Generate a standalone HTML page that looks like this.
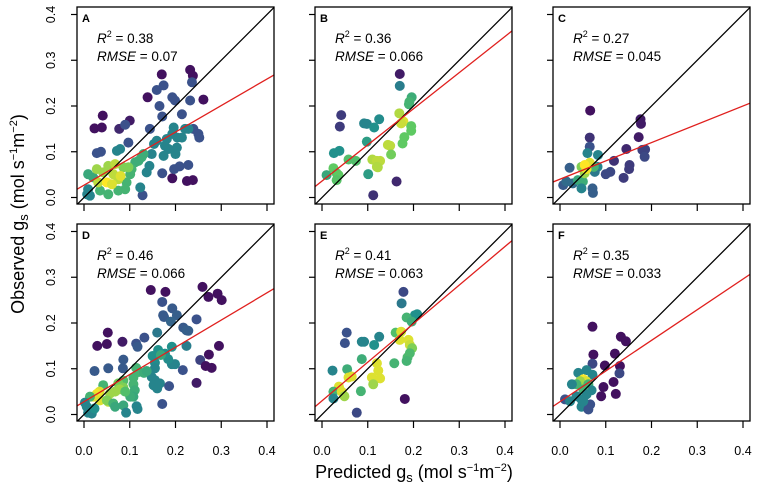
<!DOCTYPE html>
<html><head><meta charset="utf-8"><style>
body{margin:0;background:#fff}
svg{display:block;font-family:"Liberation Sans",sans-serif}
</style></head><body>
<svg id="chart" width="758" height="492" viewBox="0 0 758 492" xmlns="http://www.w3.org/2000/svg">
<text transform="translate(24,214) rotate(-90)" text-anchor="middle" font-size="18">Observed g<tspan font-size="13" dy="4">s</tspan><tspan dy="-4"> (mol s</tspan><tspan font-size="11" dy="-7">−1</tspan><tspan dy="7">m</tspan><tspan font-size="11" dy="-7">−2</tspan><tspan dy="7">)</tspan></text>
<text x="414" y="478" text-anchor="middle" font-size="18">Predicted g<tspan font-size="13" dy="4">s</tspan><tspan dy="-4"> (mol s</tspan><tspan font-size="11" dy="-7">−1</tspan><tspan dy="7">m</tspan><tspan font-size="11" dy="-7">−2</tspan><tspan dy="7">)</tspan></text>
</svg>
<script>
const ticks=[0,0.1,0.2,0.3,0.4];
const tickLabels=["0.0","0.1","0.2","0.3","0.4"];
const panelLetters=["A","B","C","D","E","F"];
const r2Values=["0.38","0.36","0.27","0.46","0.41","0.35"];
const rmseValues=["0.07","0.066","0.045","0.066","0.063","0.033"];
const fitSlopes=[0.58,0.79,0.40,0.595,0.843,0.67];
const fitIntercepts=[0.027,0.036,0.040,0.028,0.030,0.028];
const aX=[0.023,0.039,0.041,0.1,0.139,0.17,0.232,0.238,0.261,0.225,0.238,0.193,0.077,0.028,0.037,0.09,0.097,0.144,0.159,0.174,0.165,0.171,0.193,0.199,0.214,0.236,0.232,0.25,0.252,0.239,0.128,0.171,0.197,0.209,0.228,0.228,0.221,0.196,0.193,0.204,0.214,0.181,0.159,0.153,0.177,0.185,0.203,0.2,0.174,0.148,0.143,0.137,0.123,0.072,0.079,0.009,0.007,0.013,0.13,0.112,0.119,0.126,0.104,0.101,0.093,0.09,0.075,0.053,0.035,0.009,0.02,0.031,0.028,0.042,0.053,0.064,0.075,0.086,0.097,0.068,0.08,0.05,0.061];
const aY=[0.151,0.153,0.179,0.168,0.219,0.269,0.279,0.266,0.214,0.036,0.038,0.042,0.15,0.097,0.1,0.159,0.12,0.15,0.235,0.245,0.2,0.177,0.219,0.212,0.182,0.252,0.212,0.139,0.131,0.15,0.005,0.053,0.062,0.068,0.071,0.15,0.15,0.153,0.139,0.131,0.131,0.128,0.124,0.117,0.113,0.106,0.109,0.095,0.091,0.095,0.069,0.055,0.022,0.102,0.106,0.018,0.007,0.004,0.095,0.077,0.08,0.088,0.062,0.051,0.033,0.018,0.015,0.007,0.015,0.051,0.044,0.033,0.062,0.055,0.069,0.051,0.04,0.066,0.066,0.073,0.047,0.033,0.029];
const aC=[0.05,0.05,0.05,0.08,0.05,0.05,0.05,0.05,0.05,0.05,0.05,0.05,0.12,0.25,0.25,0.25,0.25,0.25,0.25,0.25,0.25,0.25,0.25,0.25,0.25,0.25,0.25,0.25,0.25,0.25,0.25,0.25,0.25,0.25,0.25,0.45,0.45,0.45,0.45,0.45,0.45,0.45,0.45,0.45,0.45,0.45,0.45,0.45,0.45,0.45,0.45,0.45,0.45,0.45,0.45,0.45,0.45,0.45,0.62,0.62,0.62,0.62,0.65,0.65,0.65,0.65,0.65,0.65,0.65,0.6,0.6,0.9,0.85,0.85,0.85,0.9,0.9,0.8,0.8,0.9,0.95,1,0.95];
const bX=[0.17,0.17,0.196,0.191,0.19,0.042,0.039,0.092,0.098,0.125,0.114,0.169,0.178,0.173,0.195,0.195,0.098,0.18,0.176,0.144,0.149,0.151,0.038,0.026,0.058,0.074,0.11,0.12,0.127,0.12,0.122,0.025,0.032,0.036,0.01,0.101,0.032,0.163,0.112];
const bY=[0.27,0.244,0.219,0.209,0.204,0.18,0.155,0.162,0.161,0.171,0.153,0.184,0.166,0.162,0.156,0.146,0.122,0.132,0.118,0.115,0.113,0.094,0.102,0.097,0.083,0.08,0.083,0.08,0.08,0.067,0.066,0.064,0.053,0.049,0.049,0.051,0.038,0.035,0.005];
const bC=[0.08,0.42,0.62,0.65,0.65,0.18,0.18,0.45,0.45,0.48,0.5,0.88,0.95,0.92,0.75,0.75,0.55,0.75,0.75,0.9,0.9,0.78,0.5,0.5,0.7,0.7,0.88,0.9,0.9,0.88,0.88,0.75,0.72,0.75,0.6,0.55,0.72,0.12,0.15];
const cX=[0.066,0.176,0.177,0.172,0.065,0.065,0.145,0.18,0.186,0.185,0.06,0.118,0.152,0.151,0.11,0.1,0.139,0.021,0.083,0.082,0.076,0.007,0.028,0.039,0.05,0.047,0.071,0.072,0.014,0.047,0.074,0.054,0.065,0.058,0.054];
const cY=[0.19,0.171,0.161,0.132,0.131,0.111,0.106,0.104,0.105,0.089,0.097,0.08,0.071,0.062,0.056,0.051,0.043,0.065,0.093,0.067,0.056,0.027,0.031,0.038,0.035,0.02,0.02,0.01,0.035,0.067,0.067,0.053,0.076,0.062,0.071];
const cC=[0.05,0.08,0.08,0.08,0.15,0.25,0.12,0.2,0.2,0.22,0.45,0.15,0.18,0.18,0.22,0.22,0.18,0.3,0.45,0.45,0.4,0.28,0.35,0.6,0.62,0.45,0.3,0.3,0.35,0.8,0.65,0.85,0.95,0.98,1];
const dX=[0.146,0.178,0.259,0.272,0.292,0.301,0.171,0.173,0.175,0.193,0.203,0.19,0.246,0.217,0.224,0.228,0.16,0.052,0.029,0.05,0.084,0.114,0.117,0.132,0.224,0.295,0.254,0.266,0.279,0.273,0.246,0.216,0.199,0.192,0.184,0.192,0.177,0.162,0.159,0.15,0.168,0.155,0.155,0.148,0.155,0.152,0.16,0.166,0.186,0.171,0.114,0.12,0.131,0.137,0.108,0.086,0.075,0.086,0.078,0.108,0.111,0.108,0.101,0.09,0.068,0.057,0.042,0.034,0.028,0.02,0.013,0.035,0.053,0.002,0.006,0.017,0.009,0.023,0.05,0.064,0.068,0.086,0.092,0.115,0.117,0.023,0.053,0.085,0.086];
const dY=[0.272,0.268,0.279,0.257,0.264,0.25,0.246,0.217,0.213,0.232,0.217,0.203,0.208,0.19,0.184,0.183,0.179,0.179,0.15,0.154,0.159,0.155,0.148,0.168,0.15,0.15,0.119,0.106,0.102,0.131,0.069,0.097,0.11,0.11,0.121,0.148,0.133,0.141,0.13,0.128,0.13,0.113,0.101,0.082,0.075,0.064,0.057,0.068,0.062,0.023,0.102,0.093,0.091,0.095,0.081,0.074,0.068,0.059,0.055,0.066,0.053,0.039,0.039,0.05,0.05,0.046,0.064,0.05,0.045,0.039,0.039,0.031,0.028,0.026,0.017,0.002,0.004,0.013,0.031,0.024,0.017,0.02,0.004,0.018,0.012,0.095,0.101,0.101,0.12];
const dC=[0.05,0.05,0.05,0.05,0.05,0.05,0.25,0.28,0.28,0.28,0.3,0.32,0.25,0.28,0.3,0.3,0.4,0.05,0.05,0.05,0.08,0.25,0.28,0.25,0.42,0.05,0.2,0.05,0.05,0.05,0.08,0.25,0.45,0.45,0.48,0.5,0.5,0.5,0.5,0.5,0.6,0.48,0.45,0.45,0.45,0.45,0.45,0.45,0.25,0.25,0.65,0.65,0.62,0.6,0.65,0.7,0.78,0.8,0.85,0.65,0.62,0.6,0.62,0.7,0.85,0.85,0.65,0.95,0.98,0.95,0.65,0.95,0.9,0.45,0.45,0.45,0.45,0.5,0.8,0.65,0.6,0.6,0.45,0.45,0.45,0.28,0.28,0.28,0.28];
const eX=[0.178,0.174,0.203,0.208,0.185,0.196,0.054,0.05,0.087,0.092,0.125,0.114,0.161,0.173,0.17,0.189,0.192,0.197,0.192,0.187,0.185,0.087,0.12,0.158,0.123,0.023,0.055,0.058,0.065,0.109,0.127,0.112,0.037,0.025,0.043,0.049,0.085,0.025,0.181,0.076];
const eY=[0.268,0.243,0.217,0.219,0.212,0.203,0.179,0.156,0.159,0.159,0.17,0.152,0.179,0.181,0.163,0.163,0.152,0.145,0.134,0.125,0.117,0.121,0.112,0.112,0.096,0.096,0.099,0.081,0.083,0.081,0.079,0.066,0.061,0.05,0.05,0.04,0.051,0.035,0.034,0.004];
const eC=[0.22,0.4,0.5,0.5,0.65,0.62,0.25,0.25,0.45,0.45,0.45,0.5,0.7,0.95,0.95,0.95,0.92,0.8,0.68,0.68,0.65,0.62,0.95,0.65,0.95,0.45,0.62,0.95,0.95,0.95,0.95,0.85,0.95,0.65,0.95,0.85,0.65,0.45,0.05,0.22];
const fX=[0.071,0.133,0.144,0.073,0.12,0.071,0.098,0.131,0.13,0.117,0.095,0.09,0.122,0.058,0.071,0.04,0.051,0.057,0.044,0.062,0.036,0.026,0.069,0.051,0.058,0.047,0.066,0.047,0.062,0.011,0.022,0.036,0.051];
const fY=[0.192,0.17,0.16,0.131,0.133,0.111,0.107,0.106,0.09,0.071,0.06,0.04,0.045,0.097,0.087,0.091,0.077,0.073,0.073,0.066,0.066,0.066,0.053,0.055,0.044,0.033,0.022,0.017,0.011,0.033,0.029,0.04,0.029];
const fC=[0.05,0.05,0.05,0.05,0.05,0.22,0.05,0.05,0.22,0.05,0.05,0.05,0.05,0.45,0.45,0.45,1,0.95,0.85,0.65,0.65,0.45,0.45,0.65,0.45,0.45,0.25,0.45,0.25,0.25,0.45,0.45,0.45];
const allX=[aX,bX,cX,dX,eX,fX],allY=[aY,bY,cY,dY,eY,fY],allC=[aC,bC,cC,dC,eC,fC];

const NS="http://www.w3.org/2000/svg";
const svg=document.getElementById("chart");
const lefts=[77,315,553],tops=[7,224],S=197,K=457.5,D0=-0.016,D1=0.416;
const stops=[[68,1,84],[59,82,139],[33,145,140],[94,201,98],[253,231,37]];
function vir(c){const t=Math.max(0,Math.min(1,c))*4,i=Math.min(3,Math.floor(t)),f=t-i;const a=stops[i],b=stops[i+1];return`rgb(${a.map((v,k)=>Math.round(v+(b[k]-v)*f)).join(",")})`;}
function mk(tag,attrs,parent){const e=document.createElementNS(NS,tag);for(const k in attrs)e.setAttribute(k,attrs[k]);(parent||svg).appendChild(e);return e;}
for(let p=0;p<6;p++){
  const col=p%3,row=Math.floor(p/3),L=lefts[col],T=tops[row];
  const sx=v=>L+7+v*K, sy=v=>T+S-6.5-v*K;
  const g=mk("g",{});
  
  
  const cp=mk("clipPath",{id:"cp"+p},g);mk("rect",{x:L,y:T,width:S,height:S},cp);
  const pts=mk("g",{"clip-path":`url(#cp${p})`},g);
  const xs=allX[p],ys=allY[p],cs=allC[p];
  for(let i=0;i<xs.length;i++){
    const c=mk("circle",{cx:sx(xs[i]),cy:sy(ys[i]),r:5,fill:vir(cs[i])},pts);
    
    
  }
  const one=mk("line",{x1:sx(D0),y1:sy(D0),x2:sx(D1),y2:sy(D1),stroke:"#000","stroke-width":1.3},pts);
  
  
  const fit=mk("line",{x1:sx(D0),y1:sy(fitIntercepts[p]+fitSlopes[p]*D0),x2:sx(D1),y2:sy(fitIntercepts[p]+fitSlopes[p]*D1),stroke:"#e0201e","stroke-width":1.3},pts);
  
  
  const box=mk("rect",{x:L,y:T,width:S,height:S,fill:"none",stroke:"#000","stroke-width":1.3},g);
  
  
  ticks.forEach((t,i)=>{
    mk("line",{x1:L,x2:L-6,y1:sy(t),y2:sy(t),stroke:"#000","stroke-width":1.2},g);
    mk("line",{x1:sx(t),x2:sx(t),y1:T+S,y2:T+S+7,stroke:"#000","stroke-width":1.2},g);
    if(col===0){const tl=mk("text",{transform:`translate(55,${sy(t)}) rotate(-90)`,"text-anchor":"middle","font-size":12.5},g);tl.textContent=tickLabels[i];
      
      }
    if(row===1){const tl=mk("text",{x:sx(t),y:455,"text-anchor":"middle","font-size":12.5},g);tl.textContent=tickLabels[i];
      
      }
  });
  const lt=mk("text",{x:L+5,y:T+15,"font-size":11,"font-weight":"bold"},g);lt.textContent=panelLetters[p];
  
  
  const r2=mk("text",{x:L+20,y:T+36,"font-size":13.5},g);
  r2.innerHTML=`<tspan font-style="italic">R</tspan><tspan font-size="9" dy="-6">2</tspan><tspan dy="6"> = ${r2Values[p]}</tspan>`;
  
  
  const rm=mk("text",{x:L+20,y:T+54,"font-size":13.5},g);
  rm.innerHTML=`<tspan font-style="italic">RMSE</tspan> = ${rmseValues[p]}`;
  
  
}
</script>
</body></html>
